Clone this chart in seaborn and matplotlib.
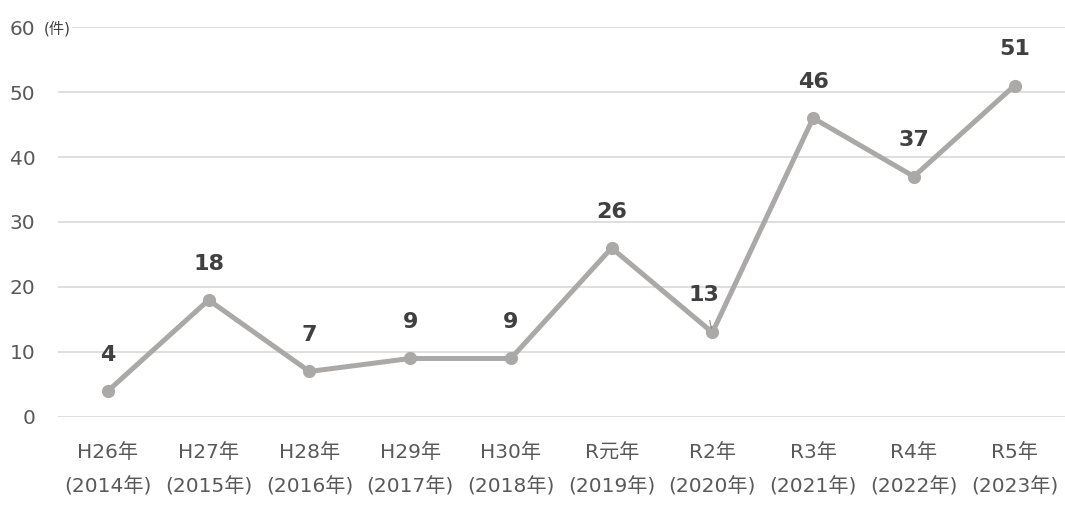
import numpy as np
import pandas as pd
import matplotlib
matplotlib.use("Agg")
import matplotlib.pyplot as plt
import seaborn as sns

# data
eras = ["H26年", "H27年", "H28年", "H29年", "H30年", "R元年", "R2年", "R3年", "R4年", "R5年"]
years = ["(2014年)", "(2015年)", "(2016年)", "(2017年)", "(2018年)",
         "(2019年)", "(2020年)", "(2021年)", "(2022年)", "(2023年)"]
counts = [4, 18, 7, 9, 9, 26, 13, 46, 37, 51]
y_ticks = [0, 10, 20, 30, 40, 50, 60]

sns.set_style("white")
plt.rcParams["font.family"] = ["DejaVu Sans", "Noto Sans CJK JP"]

df = pd.DataFrame({"x": np.arange(len(counts)), "count": counts})

fig = plt.figure(figsize=(10.65, 5.05), dpi=100)
ax = fig.add_axes([0.054, 0.1743, 0.946, 0.7722])

line_color = "#ABA8A8"
sns.lineplot(data=df, x="x", y="count", ax=ax, color=line_color, linewidth=3.6,
             marker="o", markersize=9.5, markeredgewidth=0, zorder=3)

label_style = dict(textcoords="offset points", ha="center", va="center",
                   fontsize=16, fontweight="bold", color="#404040")
for i, v in enumerate(counts):
    if i == 6:
        # R2 label sits a bit left with a short leader line
        ax.annotate(str(v), xy=(i, v), xytext=(-6, 27),
                    arrowprops=dict(arrowstyle="-", color="#8C8C8C", lw=0.8,
                                    shrinkA=9, shrinkB=3),
                    **label_style)
    else:
        ax.annotate(str(v), xy=(i, v), xytext=(0, 26), **label_style)

ax.set_xlim(-0.5, len(counts) - 0.5)
ax.set_ylim(0, 60)
ax.set_yticks(y_ticks)
ax.set_xticks(df["x"])
ax.set_xticklabels([f"{e}\n{y}" for e, y in zip(eras, years)], linespacing=1.95)
ax.tick_params(axis="both", length=0, labelsize=14.5, labelcolor="#595959")
ax.tick_params(axis="x", pad=19)
ax.tick_params(axis="y", pad=16)
ax.set_xlabel("")
ax.set_ylabel("")

ax.grid(axis="y", color="#D9D9D9", linewidth=1.2, zorder=0)
ax.grid(axis="x", visible=False)
for s in ax.spines.values():
    s.set_visible(False)

fig.text(44 / 1065, 1 - 29 / 505, "(件)", fontsize=11, color="#404040",
         va="center", ha="left", zorder=5,
         bbox=dict(facecolor="white", edgecolor="none", pad=0.5))

fig.savefig("out.png", dpi=100)
